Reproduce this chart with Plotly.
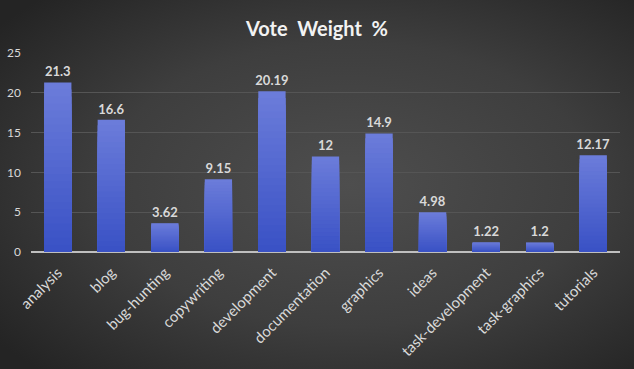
import base64
import plotly.graph_objects as go

categories = ["analysis", "blog", "bug-hunting", "copywriting", "development",
              "documentation", "graphics", "ideas", "task-development",
              "task-graphics", "tutorials"]
values = [21.3, 16.6, 3.62, 9.15, 20.19, 12, 14.9, 4.98, 1.22, 1.2, 12.17]
value_labels = ["21.3", "16.6", "3.62", "9.15", "20.19", "12", "14.9", "4.98",
                "1.22", "1.2", "12.17"]
y_ticks = [0, 5, 10, 15, 20, 25]

W, H = 634, 369
ML, MR, MT, MB = 31, 14, 53, 117
PW, PH = W - ML - MR, H - MT - MB

FONT = "Lato, 'Open Sans', sans-serif"
TXT = "#d9d9d9"

# radial background gradient
svg = f"""<svg xmlns='http://www.w3.org/2000/svg' width='{W}' height='{H}'>
<defs><radialGradient id='g' cx='55%' cy='50%' r='70%'>
<stop offset='0%' stop-color='#4e4e4e'/>
<stop offset='55%' stop-color='#3e3e3e'/>
<stop offset='100%' stop-color='#242424'/>
</radialGradient></defs>
<rect width='100%' height='100%' fill='url(#g)'/></svg>"""
bg_uri = "data:image/svg+xml;base64," + base64.b64encode(svg.encode()).decode()

fig = go.Figure()

# gradient bars: overlaid bars, lighter at the top of each bar
N = 24
top = (0x6b, 0x7c, 0xda)
bot = (0x38, 0x50, 0xc4)
for k in range(N):
    f = k / N
    c = tuple(round(top[i] + (bot[i] - top[i]) * f) for i in range(3))
    fig.add_trace(go.Bar(
        x=categories,
        y=[v * (1 - f) for v in values],
        marker=dict(color="rgb(%d,%d,%d)" % c, line=dict(width=0)),
        text=value_labels if k == 0 else None,
        textposition="outside" if k == 0 else "none",
        textfont=dict(family=FONT, size=13, color=TXT, weight="bold"),
        constraintext="none",
        cliponaxis=False,
        hoverinfo="skip" if k else "x+y",
        showlegend=False,
    ))

fig.update_layout(
    width=W, height=H,
    margin=dict(l=ML, r=MR, t=MT, b=MB, pad=0, autoexpand=False),
    barmode="overlay",
    bargap=0.49,
    paper_bgcolor="#333333",
    plot_bgcolor="rgba(0,0,0,0)",
    title=dict(text="Vote  Weight  %", x=0.5, xanchor="center", y=1 - 29 / H,
               yanchor="middle",
               font=dict(family=FONT, size=20, color="#f2f2f2", weight="bold")),
    font=dict(family=FONT, color=TXT),
    xaxis=dict(tickangle=-45, tickfont=dict(size=15, color=TXT),
               showgrid=False, showline=False, ticks="", zeroline=False,
               automargin=False, ticklabelstandoff=8),
    yaxis=dict(range=[0, 25], tickvals=y_ticks, tickfont=dict(size=12, color=TXT),
               showgrid=True, gridcolor="#555555", gridwidth=1,
               zeroline=True, zerolinecolor="#bfbfbf", zerolinewidth=1.5,
               showline=False, ticks="", ticklabelstandoff=9, automargin=False),
    images=[dict(source=bg_uri, xref="paper", yref="paper",
                 x=-ML / PW, y=1 + MT / PH, sizex=W / PW, sizey=H / PH,
                 xanchor="left", yanchor="top", sizing="stretch",
                 layer="below")],
)

fig.write_html("out.html", config={"displayModeBar": False},
               post_script="document.body.style.margin='0';document.body.style.background='#333';")
